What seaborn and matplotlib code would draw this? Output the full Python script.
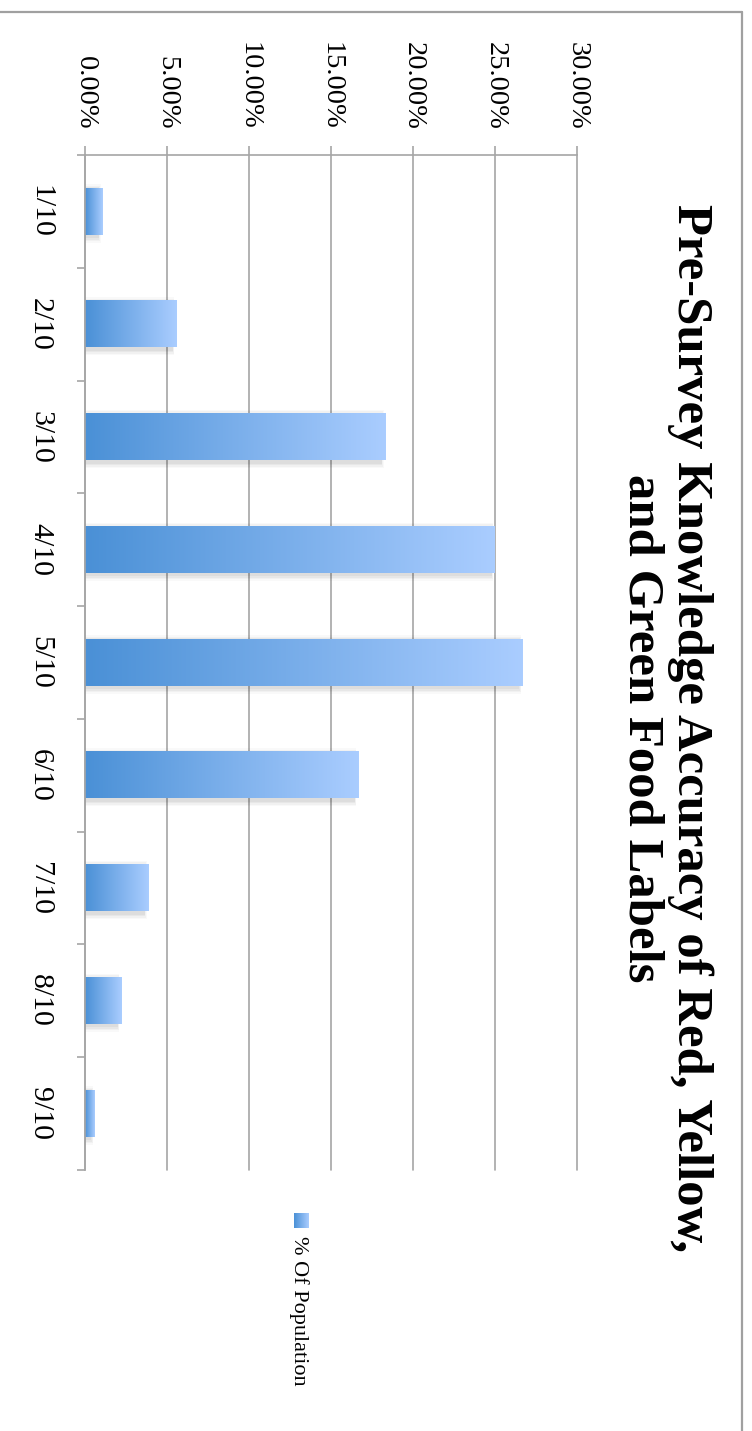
import numpy as np
import pandas as pd
import matplotlib
matplotlib.use("Agg")
import matplotlib.pyplot as plt
import seaborn as sns
from matplotlib.patches import Rectangle
from matplotlib.lines import Line2D
from matplotlib.colors import to_rgb

# Share of respondents by number of correct answers (out of 10)
categories = ["1/10", "2/10", "3/10", "4/10", "5/10", "6/10", "7/10", "8/10", "9/10"]
population_pct = [1.05, 5.55, 18.3, 25.0, 26.7, 16.65, 3.85, 2.2, 0.6]
value_ticks = [0, 5, 10, 15, 20, 25, 30]
title_lines = ["Pre-Survey Knowledge Accuracy of Red, Yellow,", "and Green Food Labels"]
series_name = "% Of Population"

sns.set_theme(style="white")
plt.rcParams["font.family"] = ["Liberation Serif", "DejaVu Serif"]

W, H = 752, 1431
fig = plt.figure(figsize=(W / 100, H / 100), dpi=100)
fig.patch.set_facecolor("white")

ax_left, ax_right, ax_top, ax_bottom = 85, 577, 155, 1170
ax = fig.add_axes([ax_left / W, 1 - ax_bottom / H,
                   (ax_right - ax_left) / W, (ax_bottom - ax_top) / H])

df = pd.DataFrame({"accuracy": categories, "share": population_pct})
sns.barplot(data=df, x="share", y="accuracy", orient="h", width=0.41,
            color="#7fb2ec", saturation=1, ax=ax)

ax.set_xlim(0, 30)
ax.set_ylim(len(categories) - 0.5, -0.5)

dark = np.array(to_rgb("#4a90d6"))
light = np.array(to_rgb("#aacdff"))
t = np.linspace(0, 1, 256)[None, :, None]
grad = dark * (1 - t) + light * t

px_x = 30 / (ax_right - ax_left)
px_y = 1 / ((ax_bottom - ax_top) / len(categories))

for p in list(ax.patches):
    x0, y0, w, h = p.get_x(), p.get_y(), p.get_width(), p.get_height()
    # soft drop shadow
    for grow, alpha in [(6, 0.022), (4.5, 0.03), (3, 0.038), (1.5, 0.045)]:
        ax.add_patch(Rectangle((0, y0 - grow * px_y + 2 * px_y),
                               max(w - 4 * px_x + grow * 0.4 * px_x, 0),
                               h + 2 * grow * px_y,
                               facecolor="black", edgecolor="none",
                               alpha=alpha, zorder=1.5))
    ax.imshow(grad, extent=(x0, x0 + w, y0 + h, y0), aspect="auto",
              interpolation="bilinear", zorder=2.5)
    p.set_facecolor("none")
    p.set_edgecolor("none")

ax.set_xlim(0, 30)
ax.set_ylim(len(categories) - 0.5, -0.5)

grid_c = "#a6a6a6"
ax.set_axisbelow(True)
ax.xaxis.grid(True, color=grid_c, lw=1.2)
ax.yaxis.grid(False)
for gl in ax.get_xgridlines():
    gl.set_clip_on(False)

for side in ["right", "bottom"]:
    ax.spines[side].set_visible(False)
for side in ["top", "left"]:
    ax.spines[side].set_visible(True)
    ax.spines[side].set_color(grid_c)
    ax.spines[side].set_linewidth(1.2)

ax.xaxis.tick_top()
ax.set_xticks(value_ticks)
ax.set_xticklabels([f"{v:.2f}%" for v in value_ticks], rotation=-90)
ax.tick_params(axis="x", which="major", top=True, bottom=False, direction="out",
               length=6.5, width=1.2, color=grid_c, pad=11.5,
               labelsize=20.5, labelcolor="black")

ax.set_yticks(range(len(categories)))
ax.set_yticklabels(categories, rotation=-90, va="center")
ax.tick_params(axis="y", which="major", left=True, length=0, pad=23,
               labelsize=21.5, labelcolor="black")
ax.set_yticks(np.arange(-0.5, len(categories), 1), minor=True)
ax.tick_params(axis="y", which="minor", left=True, direction="out",
               length=6, width=1.2, color=grid_c)
ax.set_xlabel("")
ax.set_ylabel("")

# chart title, reading top to bottom
fig.text(666 / W, 1 - 728 / H, "\n".join(title_lines), rotation=-90,
         ha="center", va="center", multialignment="center",
         fontsize=36.5, fontweight="bold", linespacing=1.05, color="black")

# legend: gradient swatch plus series name
sw = fig.add_axes([294 / W, 1 - 1228 / H, 15 / W, 15 / H])
sw.imshow(grad, aspect="auto", interpolation="bilinear")
sw.set_axis_off()
fig.text(299 / W, 1 - 1236 / H, series_name, rotation=-90,
         ha="center", va="top", fontsize=16, color="black")

# outer chart frame
frame_c = "#a0a0a0"
fig.add_artist(Line2D([0, 742 / W], [1 - 12 / H, 1 - 12 / H],
                      transform=fig.transFigure, color=frame_c, lw=1.6))
fig.add_artist(Line2D([742 / W, 742 / W], [1 - 12 / H, 0],
                      transform=fig.transFigure, color=frame_c, lw=1.6))

fig.savefig("out.png", dpi=100, facecolor="white")
